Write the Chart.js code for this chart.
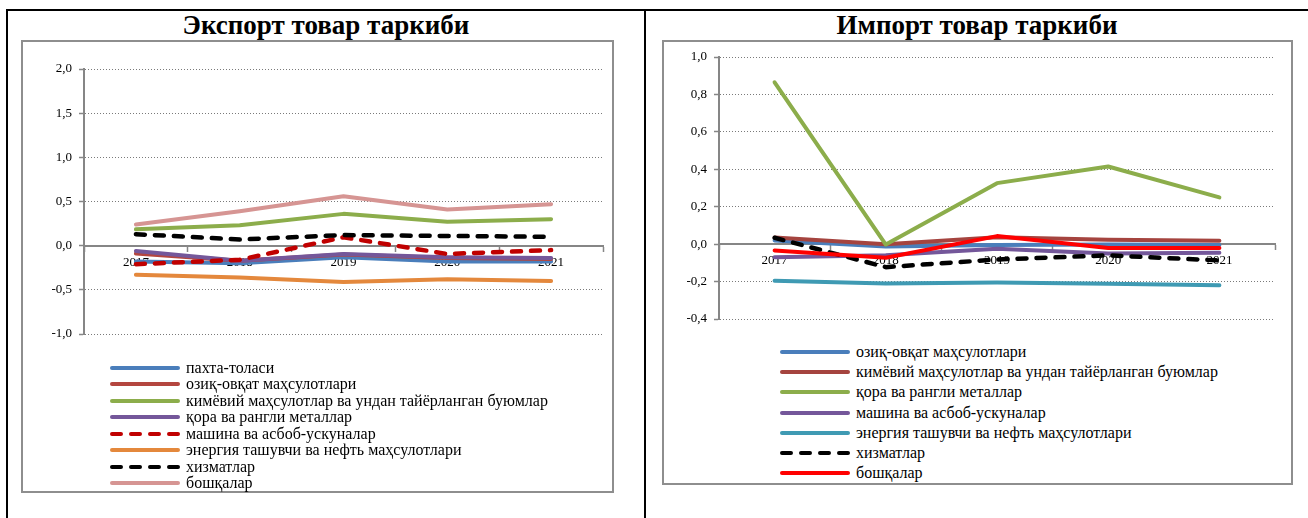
<!DOCTYPE html>
<html>
<head>
<meta charset="utf-8">
<script src="https://cdn.jsdelivr.net/npm/chart.js@4.4.1/dist/chart.umd.min.js"></script>
<style>
body{margin:0;width:1308px;height:518px;background:#fff;position:relative;overflow:hidden;font-family:"Liberation Serif","Times New Roman",serif;}
.frame{position:absolute;background:#000;}
.box{position:absolute;border:2px solid #8e8e8e;box-sizing:border-box;}
.title{position:absolute;top:12px;font-weight:bold;font-size:27px;line-height:27px;text-align:center;color:#000;white-space:nowrap;}
.cv{position:absolute;}
.legend{position:absolute;font-size:16px;color:#000;}
.legend div{display:flex;align-items:center;white-space:nowrap;}
.legend svg{margin-right:6px;flex:none;}
</style>
</head>
<body>
<div class="frame" style="left:6px;top:9px;width:1302px;height:2px"></div>
<div class="frame" style="left:6px;top:9px;width:2px;height:509px"></div>
<div class="frame" style="left:644px;top:9px;width:2px;height:509px"></div>

<div class="box" style="left:21px;top:40px;width:593px;height:453px"></div>
<div class="box" style="left:662px;top:40px;width:631px;height:445px"></div>

<div class="title" style="left:0;width:652px">Экспорт товар таркиби</div>
<div class="title" style="left:645px;width:664px">Импорт товар таркиби</div>

<canvas id="exportChart" class="cv" width="588" height="320" style="left:23px;top:42px"></canvas>
<canvas id="importChart" class="cv" width="626" height="300" style="left:664px;top:42px"></canvas>

<div id="exportLegend" class="legend" style="left:110px;top:359.5px"></div>
<div id="importLegend" class="legend" style="left:780px;top:342px"></div>

<script>
// йиллар
const years = ['2017', '2018', '2019', '2020', '2021'];

// Экспорт
const exportNames = [
  'пахта-толаси',
  'озиқ-овқат маҳсулотлари',
  'кимёвий маҳсулотлар ва ундан тайёрланган буюмлар',
  'қора ва рангли металлар',
  'машина ва асбоб-ускуналар',
  'энергия ташувчи ва нефть маҳсулотлари',
  'хизматлар',
  'бошқалар'
];
const exCotton   = [-0.18, -0.20, -0.13, -0.18, -0.18];
const exFood     = [-0.09, -0.17, -0.10, -0.14, -0.15];
const exChem     = [0.185, 0.23, 0.36, 0.27, 0.30];
const exMetal    = [-0.06, -0.17, -0.095, -0.13, -0.14];
const exMachine  = [-0.21, -0.16, 0.095, -0.094, -0.05];
const exEnergy   = [-0.33, -0.36, -0.41, -0.38, -0.40];
const exServices = [0.13, 0.07, 0.12, 0.11, 0.10];
const exOther    = [0.24, 0.39, 0.56, 0.41, 0.47];
const exportColors = ['#4A7EBB', '#B4463F', '#8CAD4B', '#74579A', '#C00000', '#E4883C', '#000000', '#D69593'];
const exportDashed = [false, false, false, false, true, false, true, false];

// Импорт
const importNames = [
  'озиқ-овқат маҳсулотлари',
  'кимёвий маҳсулотлар ва ундан тайёрланган буюмлар',
  'қора ва рангли металлар',
  'машина ва асбоб-ускуналар',
  'энергия ташувчи ва нефть маҳсулотлари',
  'хизматлар',
  'бошқалар'
];
const imFood     = [0.02, -0.012, -0.004, -0.002, -0.004];
const imChem     = [0.036, 0.0, 0.037, 0.023, 0.018];
const imMetal    = [0.865, -0.002, 0.326, 0.415, 0.25];
const imMachine  = [-0.07, -0.06, -0.025, -0.05, -0.046];
const imEnergy   = [-0.196, -0.21, -0.205, -0.212, -0.219];
const imServices = [0.034, -0.123, -0.082, -0.06, -0.087];
const imOther    = [-0.034, -0.073, 0.043, -0.021, -0.021];
const importColors = ['#4A7EBB', '#A5443F', '#8CAD4B', '#74579A', '#3F9AB3', '#000000', '#FF0000'];
const importDashed = [false, false, false, false, false, true, false];

const exportY = { min: -1, max: 2, step: 0.5 };
const importY = { min: -0.4, max: 1, step: 0.2 };

const FONT = '"Liberation Serif", "Times New Roman", serif';
const AXIS_GRAY = '#868686';
const DASH = [9, 10];

function buildDatasets(names, series, colors, dashed){
  return names.map(function(name, i){
    return {
      label: name,
      data: series[i],
      borderColor: colors[i],
      backgroundColor: colors[i],
      borderWidth: dashed[i] ? 4.5 : 4,
      borderDash: dashed[i] ? DASH : [],
      borderCapStyle: 'round',
      borderJoinStyle: 'round',
      tension: 0,
      pointRadius: 0,
      fill: false,
      order: -i   // later series on top, like in Excel
    };
  });
}

function fmt(v){
  let r = Math.round(v * 10) / 10;
  if (r === 0) r = 0;
  return r.toFixed(1).replace('.', ',');
}

function makeChart(id, datasets, yr, axisWidth, padding){
  return new Chart(document.getElementById(id), {
    type: 'line',
    data: { labels: years, datasets: datasets },
    options: {
      responsive: false,
      animation: false,
      devicePixelRatio: 1,
      layout: { padding: padding },
      plugins: { legend: { display: false }, tooltip: { enabled: false } },
      scales: {
        x: {
          type: 'category',
          position: { y: 0 },
          offset: true,
          grid: { offset: true, drawOnChartArea: false, drawTicks: true, tickLength: 5, tickColor: AXIS_GRAY, tickWidth: 1.5 },
          border: { color: AXIS_GRAY, width: 2 },
          ticks: { font: { family: FONT, size: 13 }, color: '#000', padding: 4, maxRotation: 0, autoSkip: false }
        },
        y: {
          min: yr.min,
          max: yr.max,
          afterFit: function(s){ s.width = axisWidth; },
          ticks: {
            stepSize: yr.step,
            font: { family: FONT, size: 13 },
            color: '#000',
            padding: 7,
            callback: fmt
          },
          grid: { color: '#7a7a7a', lineWidth: 1, tickLength: 5, tickColor: AXIS_GRAY, tickWidth: 1.5 },
          border: { color: AXIS_GRAY, width: 2, dash: [1, 2] }
        }
      }
    }
  });
}

function buildLegend(elId, names, colors, dashed, rowH){
  const el = document.getElementById(elId);
  names.forEach(function(name, i){
    const row = document.createElement('div');
    row.style.height = rowH + 'px';
    row.style.lineHeight = rowH + 'px';
    const dash = dashed[i] ? ' stroke-dasharray="' + DASH.join(' ') + '"' : '';
    row.innerHTML = '<svg width="70" height="8"><line x1="2" y1="4" x2="68" y2="4" stroke="' + colors[i] +
      '" stroke-width="4" stroke-linecap="round"' + dash + '/></svg><span>' + name + '</span>';
    el.append(row);
  });
}

makeChart('exportChart',
  buildDatasets(exportNames, [exCotton, exFood, exChem, exMetal, exMachine, exEnergy, exServices, exOther], exportColors, exportDashed),
  exportY, 61, { left: 0, right: 8, top: 27, bottom: 28 });

makeChart('importChart',
  buildDatasets(importNames, [imFood, imChem, imMetal, imMachine, imEnergy, imServices, imOther], importColors, importDashed),
  importY, 55, { left: 0, right: 15, top: 15, bottom: 23 });

buildLegend('exportLegend', exportNames, exportColors, exportDashed, 16.5);
buildLegend('importLegend', importNames, importColors, importDashed, 20.2);
</script>
</body>
</html>
